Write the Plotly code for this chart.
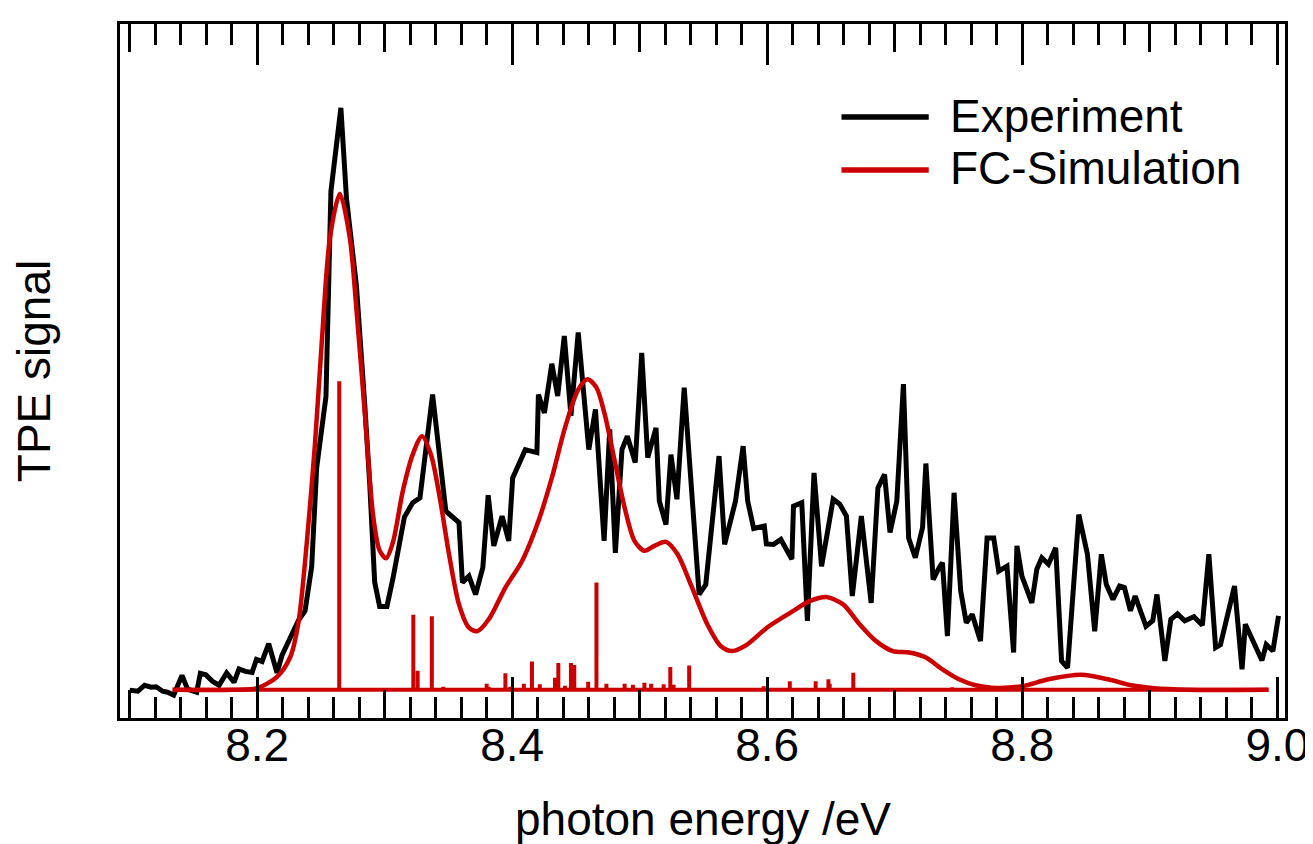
import plotly.graph_objects as go

# experiment (TPE signal, arbitrary units, FC peak = 1)
exp_energy = [8.1001, 8.1066, 8.1118, 8.1169, 8.1208, 8.126, 8.1299, 8.1346, 8.1411, 8.1455,
              8.1526, 8.1555, 8.1598, 8.165, 8.1702, 8.1761, 8.1819, 8.1858, 8.1909, 8.1961,
              8.1995, 8.2039, 8.2091, 8.2156, 8.2195, 8.226, 8.2325, 8.2376, 8.2428, 8.2467,
              8.254, 8.2579, 8.2657, 8.2701, 8.2779, 8.2844, 8.2883, 8.2922, 8.2961, 8.3018,
              8.3065, 8.3155, 8.322, 8.3277, 8.3376, 8.348, 8.3583, 8.361, 8.3661, 8.3713,
              8.377, 8.3812, 8.3856, 8.3921, 8.3973, 8.4004, 8.4103, 8.4194, 8.4206, 8.4253,
              8.4311, 8.4357, 8.4409, 8.4461, 8.4518, 8.4601, 8.4653, 8.4721, 8.4765, 8.4809,
              8.4861, 8.4903, 8.4965, 8.5016, 8.5063, 8.5128, 8.5154, 8.5206, 8.5245, 8.5292,
              8.5349, 8.5466, 8.5518, 8.5622, 8.5666, 8.5751, 8.5811, 8.5847, 8.5894, 8.5977,
              8.5993, 8.605, 8.6107, 8.6193, 8.6206, 8.6271, 8.6315, 8.6367, 8.6426, 8.6517,
              8.6569, 8.6621, 8.6667, 8.6738, 8.6815, 8.6868, 8.692, 8.6963, 8.7016, 8.7068,
              8.7109, 8.7161, 8.7218, 8.7244, 8.7301, 8.7348, 8.7374, 8.7413, 8.7465, 8.7517,
              8.7561, 8.7607, 8.7672, 8.7724, 8.7776, 8.7815, 8.788, 8.7932, 8.7958, 8.7997,
              8.8075, 8.8114, 8.8153, 8.8205, 8.8262, 8.8308, 8.8355, 8.8443, 8.8511, 8.8568,
              8.862, 8.8659, 8.8711, 8.8763, 8.8801, 8.8848, 8.8885, 8.897, 8.9023, 8.9056,
              8.9118, 8.9165, 8.9217, 8.9274, 8.9346, 8.9412, 8.9463, 8.9516, 8.9554, 8.9664,
              8.9723, 8.9749, 8.9879, 8.9913, 8.9965, 9.0009]
exp_signal = [-0.001, -0.003, 0.009, 0.005, 0.006, -0.003, -0.005, -0.011, 0.029, 0.001,
              -0.005, 0.033, 0.030, 0.017, 0.009, 0.034, 0.015, 0.042, 0.037, 0.035,
              0.061, 0.057, 0.093, 0.034, 0.069, 0.102, 0.140, 0.159, 0.248, 0.447,
              0.591, 1.005, 1.173, 0.990, 0.814, 0.575, 0.416, 0.217, 0.168, 0.168,
              0.224, 0.348, 0.377, 0.387, 0.595, 0.360, 0.337, 0.216, 0.229, 0.192,
              0.246, 0.392, 0.290, 0.350, 0.300, 0.427, 0.484, 0.478, 0.595, 0.558,
              0.657, 0.592, 0.713, 0.552, 0.720, 0.484, 0.565, 0.300, 0.525, 0.276,
              0.484, 0.511, 0.458, 0.679, 0.468, 0.528, 0.380, 0.333, 0.474, 0.384,
              0.609, 0.192, 0.212, 0.471, 0.293, 0.380, 0.491, 0.380, 0.325, 0.330,
              0.294, 0.293, 0.303, 0.263, 0.370, 0.377, 0.139, 0.437, 0.249, 0.384,
              0.374, 0.350, 0.189, 0.350, 0.175, 0.407, 0.434, 0.317, 0.380, 0.616,
              0.306, 0.266, 0.327, 0.456, 0.222, 0.246, 0.256, 0.108, 0.397, 0.199,
              0.135, 0.152, 0.098, 0.306, 0.306, 0.239, 0.249, 0.075, 0.290, 0.229,
              0.175, 0.243, 0.266, 0.253, 0.286, 0.058, 0.044, 0.353, 0.273, 0.118,
              0.273, 0.212, 0.182, 0.209, 0.206, 0.159, 0.189, 0.128, 0.139, 0.192,
              0.058, 0.142, 0.153, 0.139, 0.147, 0.130, 0.273, 0.085, 0.091, 0.209,
              0.041, 0.132, 0.059, 0.091, 0.078, 0.149]

# Franck-Condon simulation (convolved)
sim_energy = [8.1338, 8.1800, 8.2000, 8.2156, 8.2260, 8.2325, 8.2390, 8.2454, 8.2506, 8.2571,
              8.2649, 8.2727, 8.2779, 8.2844, 8.2909, 8.2960, 8.3012, 8.3065, 8.3143, 8.3220,
              8.3293, 8.3363, 8.3428, 8.3505, 8.3583, 8.3661, 8.3726, 8.3817, 8.3947, 8.4077,
              8.4206, 8.4311, 8.4414, 8.4518, 8.4591, 8.4661, 8.4726, 8.4804, 8.4882, 8.4959,
              8.5037, 8.5115, 8.5206, 8.5297, 8.5401, 8.5530, 8.5635, 8.5725, 8.5842, 8.5998,
              8.6180, 8.6336, 8.6465, 8.6595, 8.6725, 8.6854, 8.6984, 8.7114, 8.7244, 8.7374,
              8.7504, 8.7633, 8.7763, 8.7997, 8.8205, 8.8464, 8.8672, 8.8853, 8.9035, 8.9300,
              8.9931]
sim_signal = [0.000, 0.000, 0.003, 0.026, 0.066, 0.137, 0.297, 0.496, 0.696, 0.911,
              1.000, 0.911, 0.767, 0.560, 0.353, 0.281, 0.265, 0.297, 0.401, 0.474,
              0.511, 0.474, 0.394, 0.273, 0.172, 0.125, 0.118, 0.142, 0.206, 0.259,
              0.340, 0.427, 0.528, 0.605, 0.626, 0.609, 0.555, 0.461, 0.367, 0.300,
              0.280, 0.290, 0.298, 0.273, 0.212, 0.132, 0.088, 0.078, 0.091, 0.125,
              0.155, 0.179, 0.187, 0.172, 0.132, 0.098, 0.078, 0.075, 0.065, 0.041,
              0.021, 0.009, 0.004, 0.007, 0.021, 0.030, 0.021, 0.009, 0.003, 0.000,
              0.000]

# stick spectrum
stick_energy = [8.2644, 8.3225, 8.3259, 8.3370, 8.3460, 8.3800, 8.3815, 8.3947, 8.3986, 8.4092,
                8.4155, 8.4217, 8.4336, 8.4362, 8.4414, 8.4461, 8.4487, 8.4596, 8.4661, 8.4739,
                8.4882, 8.4947, 8.5037, 8.5090, 8.5188, 8.5240, 8.5266, 8.5388, 8.5650, 8.5800,
                8.5972, 8.6177, 8.6380, 8.6480, 8.6490, 8.6675, 8.6800, 8.7000, 8.7100, 8.7250,
                8.7300, 8.7450]
stick_height = [0.622, 0.151, 0.038, 0.148, 0.006, 0.012, 0.006, 0.033, 0.006, 0.012,
                0.057, 0.011, 0.024, 0.054, 0.008, 0.054, 0.050, 0.016, 0.216, 0.012,
                0.012, 0.010, 0.014, 0.012, 0.011, 0.046, 0.010, 0.049, 0.003, 0.003,
                0.007, 0.017, 0.017, 0.021, 0.012, 0.034, 0.004, 0.004, 0.004, 0.004,
                0.004, 0.005]
stick_start, stick_end = 8.1338, 8.9931

x_tickvals = [8.2, 8.4, 8.6, 8.8, 9.0]
x_ticktext = ["8.2", "8.4", "8.6", "8.8", "9.0"]
x_midticks = [8.1, 8.3, 8.5, 8.7, 8.9]

RED = "#cc0000"
FONT = "Liberation Sans, Arial, Helvetica, sans-serif"

# stick spectrum drawn as one line: baseline with vertical spikes
sx, sy = [stick_start], [0]
for e, h in sorted(zip(stick_energy, stick_height)):
    sx += [e, e, e]
    sy += [0, h, 0]
sx.append(stick_end)
sy.append(0)

fig = go.Figure()
fig.add_trace(go.Scatter(x=exp_energy, y=exp_signal, mode="lines", name="Experiment",
                         line=dict(color="black", width=5), showlegend=False))
fig.add_trace(go.Scatter(x=sx, y=sy, mode="lines", name="FC sticks",
                         line=dict(color=RED, width=4), showlegend=False))
fig.add_trace(go.Scatter(x=sim_energy, y=sim_signal, mode="lines", name="FC-Simulation",
                         line=dict(color=RED, width=4.5, shape="spline", smoothing=0.8),
                         showlegend=False))
# empty trace so the second tick axis gets drawn
fig.add_trace(go.Scatter(x=[], y=[], xaxis="x2", showlegend=False, hoverinfo="skip"))

xr = [8.0925, 9.006]
fig.update_layout(
    width=1313, height=844,
    margin=dict(l=112, r=27, t=16, b=134),
    plot_bgcolor="white", paper_bgcolor="white",
    font=dict(family=FONT, size=46, color="black"),
    xaxis=dict(range=xr, showline=True, linecolor="black", linewidth=3, mirror="ticks",
               ticks="inside", ticklen=41, tickwidth=3, tickcolor="black",
               tickmode="array", tickvals=x_tickvals, ticktext=x_ticktext,
               tickfont=dict(size=46), ticklabelstandoff=-15,
               minor=dict(ticks="inside", tick0=8.0, dtick=0.02, ticklen=21,
                          tickwidth=3, tickcolor="black", showgrid=False),
               showgrid=False, zeroline=False),
    xaxis2=dict(range=xr, overlaying="x", anchor="y", side="bottom",
                showline=True, linecolor="black", linewidth=3, mirror="ticks",
                ticks="inside", ticklen=28, tickwidth=3, tickcolor="black",
                tickmode="array", tickvals=x_midticks, showticklabels=False,
                showgrid=False, zeroline=False),
    yaxis=dict(range=[-0.057, 1.342], showline=True, linecolor="black", linewidth=3,
               mirror=True, ticks="", showticklabels=False, showgrid=False, zeroline=False,
               title=dict(text="TPE signal", font=dict(size=46), standoff=55)),
)

# x axis title placed by hand so it sits at the very bottom edge
fig.add_annotation(xref="paper", yref="paper", x=0.5, y=-0.186, xanchor="center",
                   yanchor="bottom", text="photon energy /eV", showarrow=False,
                   font=dict(size=46, family=FONT, color="black"))

# legend drawn by hand (long sample lines)
legend_items = [("Experiment", "black", 0.866, 0.8674), ("FC-Simulation", RED, 0.7896, 0.7925)]
for label, col, ly, ty in legend_items:
    fig.add_shape(type="line", xref="paper", yref="paper", x0=0.6193, x1=0.6942, y0=ly, y1=ly,
                  line=dict(color=col, width=5.5))
    fig.add_annotation(xref="paper", yref="paper", x=0.7104, y=ty, xanchor="left",
                       yanchor="middle", text=label, showarrow=False,
                       font=dict(size=46, family=FONT, color="black"))

fig.write_html("out.html")
